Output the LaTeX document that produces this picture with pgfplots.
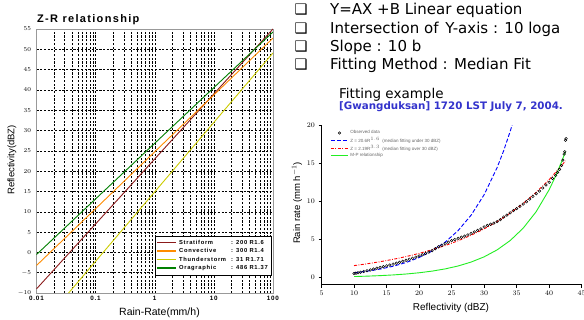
\documentclass[border=0pt]{standalone}
\usepackage{fontspec}
\setmainfont{Liberation Sans}
\newfontfamily\dejavu{DejaVu Sans}
\newfontfamily\spaced{Liberation Sans}[LetterSpace=12]
\usepackage{pgfplots}
\pgfplotsset{compat=1.18}
\definecolor{strat}{HTML}{8B1A1A}
\definecolor{conv}{HTML}{FF8C00}
\definecolor{thund}{HTML}{CCCC00}
\definecolor{oro}{HTML}{008000}
\definecolor{titleblue}{HTML}{3333CC}
\definecolor{mpgreen}{HTML}{22EE22}
\begin{document}
\begin{tikzpicture}
\useasboundingbox (0pt,0pt) rectangle (584pt,320pt);
\fill[white] (0pt,0pt) rectangle (584pt,320pt);

% ---------------- left: Z-R relationship ----------------
\begin{axis}[
  at={(36.5pt,27pt)}, anchor=south west, scale only axis,
  width=236.5pt, height=264pt,
  xmode=log, xmin=0.01, xmax=100, ymin=-10, ymax=55,
  xtick={0.01,0.1,1,10,100}, xticklabels={0.01,0.1,1,10,100},
  minor xtick={0.02,0.03,0.04,0.05,0.06,0.07,0.08,0.09,0.2,0.3,0.4,0.5,0.6,0.7,0.8,0.9,2,3,4,5,6,7,8,9,20,30,40,50,60,70,80,90},
  ytick={-10,-5,...,55},
  grid=both,
  major grid style={black, line width=0.45pt, dash pattern=on 2.2pt off 1.5pt},
  minor grid style={black, line width=0.45pt, dash pattern=on 2.2pt off 1.5pt},
  major tick length=0pt, minor tick length=0pt,
  axis line style={gray!80, line width=0.8pt},
  ticklabel style={font=\spaced\bfseries\fontsize{6.3}{7}\selectfont},
  yticklabel style={xshift=-2pt},
  legend style={at={(0.995,0.068)}, anchor=south east, draw=black, line width=0.4pt,
    fill=white, font=\spaced\bfseries\fontsize{5.8}{6.5}\selectfont,
    inner sep=1.8pt, row sep=-1.2pt, cells={anchor=west}},
  legend image code/.code={\draw[#1, line width=1.4pt] (0pt,0pt) -- (19pt,0pt);},
]
\addplot[strat, line width=0.9pt] coordinates {(0.01,-8.99) (0.1,7.01) (1,23.01) (10,39.01) (100,55.01)};
\addlegendentry{\makebox[52pt][l]{Stratiform}: 200 R1.6}
\addplot[conv, line width=0.9pt] coordinates {(0.01,-3.23) (0.1,10.77) (1,24.77) (10,38.77) (100,52.77)};
\addlegendentry{\makebox[52pt][l]{Convective}: 300 R1.4}
\addplot[thund, line width=0.9pt] coordinates {(0.01,-19.29) (0.1,-2.19) (1,14.91) (10,32.01) (100,49.11)};
\addlegendentry{\makebox[52pt][l]{Thunderstorm}: 31 R1.71}
\addplot[oro, line width=0.9pt] coordinates {(0.01,-0.53) (0.1,13.17) (1,26.87) (10,40.57) (100,54.27)};
\addlegendentry{\makebox[52pt][l]{Oragraphic}: 486 R1.37}
\end{axis}

\node[anchor=base west, inner sep=0, font=\spaced\bfseries\fontsize{11}{12}\selectfont] at (37pt,297.3pt) {Z-R relationship};
\node[rotate=90, font=\fontsize{9.5}{10}\selectfont] at (12pt,160pt) {Reflectivity(dBZ)};
\node[font=\fontsize{10.5}{11}\selectfont] at (159.5pt,7pt) {Rain-Rate(mm/h)};

% ---------------- right: fitting example ----------------
\begin{axis}[
  at={(321.5pt,35.4pt)}, anchor=south west, scale only axis,
  width=260.2pt, height=159.6pt,
  xmin=5, xmax=45, ymin=-0.9, ymax=20,
  axis x line*=bottom, axis y line*=left,
  axis line style={line width=0.6pt},
  xtick={5,10,...,45}, ytick={0,5,...,20},
  tick align=outside, major tick length=3pt, tick style={line width=0.6pt, black},
  ticklabel style={font=\fontsize{7}{8}\selectfont},
  legend style={at={(0.03,0.985)}, anchor=north west, draw=none, fill=none,
    font=\fontsize{4.5}{5}\selectfont\color{black!60}, row sep=-2.5pt, inner sep=1pt,
    cells={anchor=west}},
]
\addplot[only marks, mark=o, mark size=1.3pt, black, line width=0.5pt] coordinates {
(10.0,0.55) (10.3,0.60) (10.6,0.65) (11.0,0.72) (11.5,0.82) (12.0,0.92) (12.5,1.02)
(13.0,1.13) (13.5,1.25) (14.0,1.35) (14.5,1.45) (15.0,1.55) (15.5,1.66) (16.0,1.78)
(16.5,1.90) (17.0,2.02) (17.5,2.15) (18.0,2.28) (18.5,2.42) (19.0,2.55) (19.5,2.70)
(20.0,2.85) (20.5,3.00) (21.0,3.18) (21.5,3.35) (22.0,3.55) (22.5,3.80) (23.0,4.05)
(23.5,4.25) (24.0,4.45) (24.5,4.65) (25.0,4.85) (25.5,5.00) (26.0,5.15) (26.5,5.30)
(27.0,5.45) (27.5,5.60) (28.0,5.80) (28.5,6.00) (29.0,6.20) (29.5,6.40) (30.0,6.65)
(30.5,6.85) (31.0,7.00) (31.5,7.15) (32.0,7.35) (32.5,7.60) (33.0,7.95) (33.5,8.20)
(34.0,8.50) (34.5,8.80) (35.0,9.05) (35.5,9.35) (36.0,9.65) (36.5,9.95) (37.0,10.30)
(37.5,10.65) (38.0,11.00) (38.5,11.35) (39.0,11.75) (39.5,12.15) (40.0,12.50) (40.5,13.00)
(41.0,13.40) (41.3,13.80) (41.6,14.20) (41.9,14.70) (42.1,15.40) (42.3,16.20) (42.4,16.50)
(42.5,18.00) (42.6,18.20)};
\addlegendentry{Observed data}
\addplot[blue, line width=0.9pt, dash pattern=on 4pt off 2pt] coordinates {
(10,0.641) (12,0.851) (14,1.129) (16,1.499) (18,1.990) (20,2.641) (22,3.504) (24,4.651)
(26,6.172) (28,8.192) (30,10.87) (32,14.43) (33,16.62) (34,19.15) (34.3,19.98)};
\addlegendentry{Z = 20.6R$^{1.6}$ \ (median fitting under 30 dBZ)}
\addplot[red, line width=0.9pt, dash pattern=on 3pt off 1.5pt on 0.8pt off 1.5pt] coordinates {
(10,1.585) (12,1.822) (14,2.095) (16,2.408) (18,2.769) (20,3.184) (22,3.660) (24,4.208)
(26,4.838) (28,5.564) (30,6.397) (32,7.355) (34,8.457) (36,9.723) (38,11.18) (40,12.85)
(42,14.78) (42.5,15.30)};
\addlegendentry{Z = 2.19R$^{3.3}$ \ (median fitting over 30 dBZ)}
\addplot[mpgreen, line width=0.9pt] coordinates {
(10,0.1538) (12,0.2051) (14,0.2734) (16,0.3646) (18,0.4862) (20,0.6484) (22,0.8647)
(24,1.153) (26,1.538) (28,2.050) (30,2.735) (32,3.647) (34,4.863) (36,6.485) (38,8.648)
(40,11.53) (41,13.32) (42,15.38) (42.5,16.52)};
\addlegendentry{M-P relationship}
\end{axis}

\node[rotate=90, font=\fontsize{9.5}{10}\selectfont] at (297pt,117pt) {Rain rate (mm h$^{-1}$)};
\node[font=\fontsize{10}{11}\selectfont] at (451pt,12pt) {Reflectivity (dBZ)};

% ---------------- text block ----------------
\begin{scope}[every node/.style={anchor=base west, inner sep=0}]
\node[font=\dejavu\fontsize{14.5}{16}\selectfont] at (294.5pt,305pt) {❑};
\node[font=\dejavu\fontsize{14.5}{16}\selectfont] at (294.5pt,286.7pt) {❑};
\node[font=\dejavu\fontsize{14.5}{16}\selectfont] at (294.5pt,268.3pt) {❑};
\node[font=\dejavu\fontsize{14.5}{16}\selectfont] at (294.5pt,250pt) {❑};
\node[font=\dejavu\fontsize{15}{18}\selectfont] at (330pt,305pt) {Y=AX +B Linear equation};
\node[font=\dejavu\fontsize{15}{18}\selectfont] at (330pt,286.7pt) {Intersection of\hspace{2pt} Y-axis : 10 loga};
\node[font=\dejavu\fontsize{15}{18}\selectfont] at (330pt,268.3pt) {Slope : 10 b};
\node[font=\dejavu\fontsize{15}{18}\selectfont] at (330pt,250pt) {Fitting Method : Median Fit};
\node[font=\dejavu\fontsize{13.5}{16}\selectfont] at (339pt,221pt) {Fitting example};
\node[font=\dejavu\bfseries\fontsize{10.3}{12}\selectfont, text=titleblue] at (339pt,210.7pt) {[Gwangduksan] 1720 LST July 7, 2004.};
\end{scope}
\end{tikzpicture}
\end{document}
